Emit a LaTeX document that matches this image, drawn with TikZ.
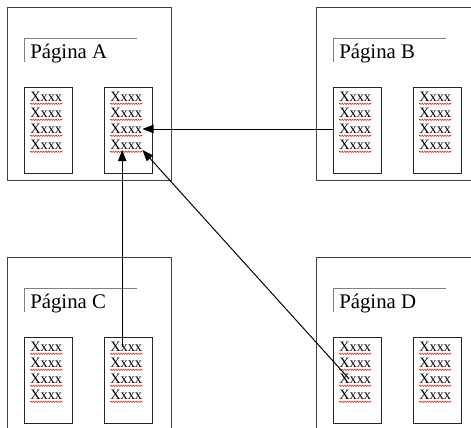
\documentclass[tikz,border=0pt]{standalone}
\usepackage{fontspec}
\setmainfont{Liberation Serif}
\usetikzlibrary{arrows.meta,decorations.pathmorphing}
\definecolor{framegray}{HTML}{404040}
\definecolor{rulegray}{HTML}{808080}
\definecolor{spellred}{HTML}{E03030}

\begin{document}
\begin{tikzpicture}[
  page/.style={draw=framegray,line width=0.7pt,minimum width=4.1cm,minimum height=4.325cm,anchor=north west,inner sep=0pt},
  col/.style={draw=black!85,line width=0.6pt,minimum width=1.2cm,minimum height=2.15cm,anchor=north west,inner sep=0pt},
  ttl/.style={anchor=base west,inner sep=0pt,font=\fontsize{14.8}{17}\selectfont},
  word/.style={anchor=west,inner sep=0pt,font=\fontsize{10.2}{12}\selectfont},
  wavy/.style={draw=spellred,line width=0.45pt,decorate,decoration={snake,amplitude=0.45pt,segment length=1.8pt}},
  link/.style={draw=black,line width=0.7pt,-{Triangle[length=8pt,width=6pt]}}]
\useasboundingbox (0,0) rectangle (11.775,-10.675);
\foreach \p/\dx/\dy in {A/0/0,B/7.725/0,C/0/-6.25,D/7.725/-6.25}{
  \begin{scope}[shift={(\dx,\dy)}]
  \node[page] (page\p) at (0.175,-0.175) {};
  \draw[rulegray,line width=0.7pt] (0.6,-1.55) -- (0.6,-0.95) -- (3.425,-0.95);
  \node[ttl] (title\p) at (0.75,-1.45) {Página \p};
  \node[col] (col\p1) at (0.6,-2.175) {};
  \node[col] (col\p2) at (2.6,-2.175) {};
  \foreach \c in {1,2}{
    \foreach \k in {1,...,4}{
      \node[word] (\p\c-\k) at ([xshift=0.15cm,yshift={-0.25cm-0.4cm*(\k-1)}]col\p\c.north west) {Xxxx};
      \draw[wavy] ([yshift=-0.17cm]\p\c-\k.west) -- ([yshift=-0.17cm]\p\c-\k.east);
    }
  }
  \end{scope}
}
\draw[link] (colB1.west |- B1-3.center) -- (A2-3.east);
\draw[link] ([xshift=-0.1cm]C2-1.center) -- ([xshift=-0.1cm]C2-1.center |- A2-4.south);
\draw[link] ([xshift=-0.15cm]D1-3.center) -- (A2-4.south east);
\end{tikzpicture}
\end{document}
